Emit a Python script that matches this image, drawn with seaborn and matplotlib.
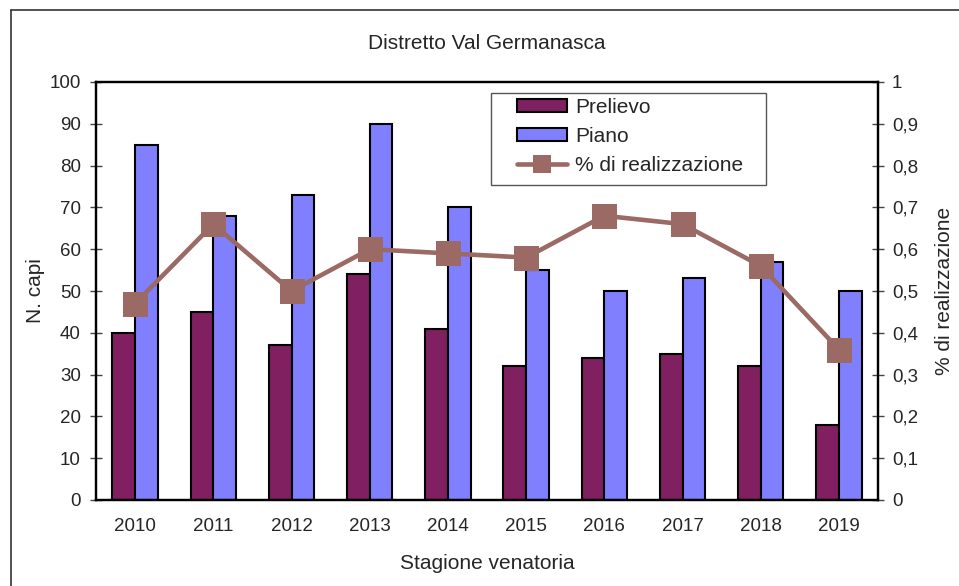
import numpy as np
import pandas as pd
import matplotlib
matplotlib.use("Agg")
import matplotlib.pyplot as plt
import seaborn as sns
from matplotlib.patches import Patch, Rectangle
from matplotlib.lines import Line2D
from matplotlib.ticker import FixedLocator, FuncFormatter

# dati
anni = ["2010", "2011", "2012", "2013", "2014", "2015", "2016", "2017", "2018", "2019"]
prelievo = [40, 45, 37, 54, 41, 32, 34, 35, 32, 18]
piano = [85, 68, 73, 90, 70, 55, 50, 53, 57, 50]
realizzazione = [0.47, 0.66, 0.50, 0.60, 0.59, 0.58, 0.68, 0.66, 0.56, 0.36]

col_prelievo = "#802060"
col_piano = "#8080FF"
col_linea = "#9B6A65"

sns.set_style("white")
plt.rcParams["font.family"] = ["Liberation Sans", "DejaVu Sans"]

df = pd.DataFrame({
    "Stagione": anni * 2,
    "N": prelievo + piano,
    "Serie": ["Prelievo"] * len(anni) + ["Piano"] * len(anni),
})

W, H = 959, 586
fig = plt.figure(figsize=(W / 100, H / 100), dpi=100)
ax = fig.add_axes([96 / W, 1 - 500 / H, 782 / W, 418 / H])

sns.barplot(data=df, x="Stagione", y="N", hue="Serie",
            palette={"Prelievo": col_prelievo, "Piano": col_piano},
            saturation=1, width=0.58, gap=0, edgecolor="black", linewidth=1.5,
            legend=False, ax=ax)

ax.set_xlim(-0.5, len(anni) - 0.5)
ax.set_ylim(0, 100)
ax.set_yticks(range(0, 101, 10))
ax.xaxis.set_major_locator(FixedLocator(np.arange(-0.5, len(anni), 1.0)))
ax.xaxis.set_minor_locator(FixedLocator(np.arange(len(anni))))
ax.set_xticklabels([], minor=False)
ax.set_xticklabels(anni, minor=True)
ax.tick_params(axis="x", which="major", direction="out", length=5, width=1, color="#444444")
ax.tick_params(axis="x", which="minor", length=0, pad=13, labelsize=13.5)
ax.tick_params(axis="y", direction="inout", length=8, width=1, pad=7, labelsize=13.5, color="#444444")
ax.set_xlabel("Stagione venatoria", fontsize=15)
ax.set_ylabel("N. capi", fontsize=15)
ax.xaxis.set_label_coords(0.5, -0.13)
ax.yaxis.set_label_coords(-0.065, 0.5)
for s in ax.spines.values():
    s.set_color("black")
    s.set_linewidth(1.6)

ax2 = ax.twinx()
sns.lineplot(x=np.arange(len(anni)), y=realizzazione, color=col_linea,
             linewidth=3.3, marker="s", markersize=18, markeredgewidth=0, ax=ax2)
ax2.set_ylim(0, 1)
ax2.set_xlim(-0.5, len(anni) - 0.5)
ax2.set_yticks(np.arange(0, 1.01, 0.1))
ax2.yaxis.set_major_formatter(FuncFormatter(lambda v, p: ("%g" % round(v, 1)).replace(".", ",")))
ax2.tick_params(axis="y", direction="inout", length=8, width=1, pad=6, labelsize=13.5, color="#444444")
ax2.set_ylabel("% di realizzazione", fontsize=15)
ax2.yaxis.set_label_coords(1.073, 0.5)
for s in ax2.spines.values():
    s.set_color("black")
    s.set_linewidth(1.6)

ax.text(0.5, 1.093, "Distretto Val Germanasca", transform=ax.transAxes,
        ha="center", va="center", fontsize=15)

# legenda: cornice disegnata a parte
fig.add_artist(Rectangle((491 / W, 1 - 185 / H), 275 / W, 92 / H, transform=fig.transFigure,
                         facecolor="white", edgecolor="#555555", linewidth=1, zorder=5))
handles = [
    Patch(facecolor=col_prelievo, edgecolor="black", linewidth=1.5, label="Prelievo"),
    Patch(facecolor=col_piano, edgecolor="black", linewidth=1.5, label="Piano"),
    Line2D([], [], color=col_linea, linewidth=3.3, marker="s", markersize=13,
           markeredgewidth=0, label="% di realizzazione"),
]
leg = fig.legend(handles=handles, loc="upper left",
                 bbox_to_anchor=(517 / W, 1 - 98 / H),
                 fontsize=15, frameon=False, borderpad=0, labelspacing=0.48,
                 handlelength=2.4, handleheight=0.6, handletextpad=0.4, borderaxespad=0)
leg.set_zorder(6)

# cornice esterna (solo lati sinistro e superiore visibili)
fig.add_artist(Line2D([11 / W, 11 / W], [0, 1 - 10 / H], color="#333333", linewidth=1.2))
fig.add_artist(Line2D([11 / W, 1], [1 - 10 / H, 1 - 10 / H], color="#333333", linewidth=1.2))

fig.savefig("out.png", dpi=100)
